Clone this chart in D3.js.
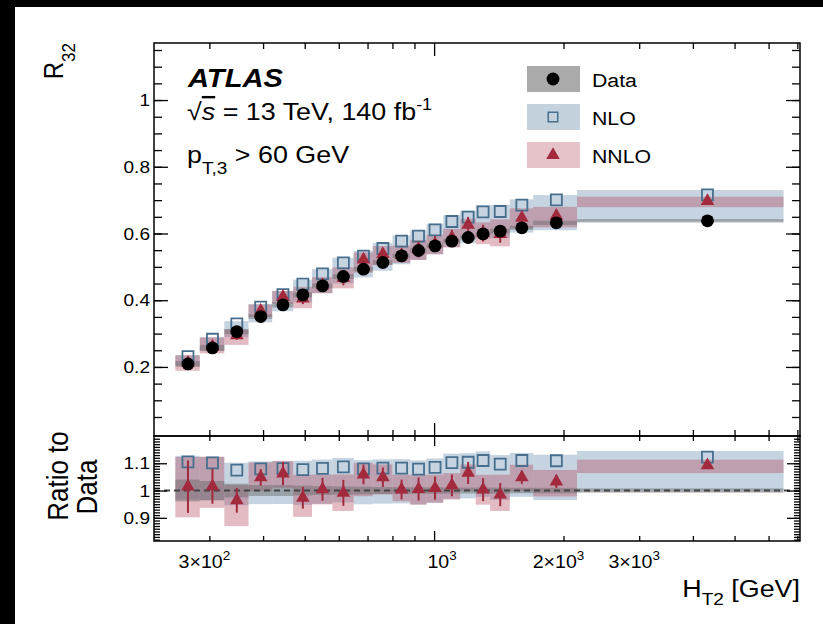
<!DOCTYPE html>
<html>
<head>
<meta charset="utf-8">
<script src="https://cdn.jsdelivr.net/npm/d3@7"></script>
<style>
  html, body { margin: 0; padding: 0; background: #fff; overflow: hidden; }
  svg { display: block; }
  text { font-family: "Liberation Sans", Arial, sans-serif; fill: #000; }
</style>
</head>
<body>
<div id="chart"></div>
<script>
// HT2 bin edges [GeV]
const binEdges = [250, 285, 325, 370, 420, 470, 520, 580, 650, 720, 800, 880, 960, 1050, 1150, 1250, 1350, 1500, 1700, 2150, 6500];

// R32 values
const dataR32 = [0.209, 0.257, 0.306, 0.351, 0.386, 0.416, 0.443, 0.471, 0.493, 0.513, 0.533, 0.549, 0.563, 0.577, 0.588, 0.599, 0.607, 0.617, 0.632, 0.638];
const dataErr = [0.04, 0.035, 0.025, 0.02, 0.02, 0.018, 0.016, 0.015, 0.014, 0.013, 0.012, 0.012, 0.012, 0.011, 0.011, 0.011, 0.011, 0.01, 0.01, 0.008];

const nloR32 = [0.231, 0.283, 0.329, 0.379, 0.417, 0.448, 0.479, 0.512, 0.532, 0.555, 0.577, 0.592, 0.611, 0.636, 0.649, 0.665, 0.666, 0.685, 0.701, 0.716];
const nloUp = [0.02, 0.02, 0.025, 0.025, 0.025, 0.03, 0.03, 0.03, 0.03, 0.03, 0.03, 0.03, 0.03, 0.03, 0.03, 0.03, 0.03, 0.025, 0.02, 0.02];
const nloDn = [0.125, 0.125, 0.12, 0.12, 0.12, 0.12, 0.12, 0.12, 0.12, 0.12, 0.12, 0.12, 0.12, 0.12, 0.12, 0.12, 0.12, 0.12, 0.13, 0.112];

const nnloR32 = [0.212, 0.261, 0.295, 0.368, 0.410, 0.405, 0.445, 0.467, 0.522, 0.538, 0.535, 0.552, 0.568, 0.588, 0.626, 0.601, 0.598, 0.647, 0.653, 0.697];
const nnloUp = [0.107, 0.107, 0.059, 0.052, 0.044, 0.087, 0.054, 0.068, 0.040, 0.045, 0.054, 0.052, 0.049, 0.044, 0.029, 0.054, 0.074, 0.044, 0.041, 0.019];
const nnloDn = [0.111, 0.078, 0.098, 0.049, 0.049, 0.072, 0.055, 0.067, 0.075, 0.060, 0.043, 0.057, 0.053, 0.051, 0.062, 0.055, 0.061, 0.049, 0.053, 0.026];
const nnloStat = [0.095, 0.063, 0.047, 0.029, 0.040, 0.041, 0.042, 0.048, 0.034, 0.034, 0.036, 0.042, 0.042, 0.039, 0.038, 0.042, 0.043, 0.023, 0.023, 0.01];

// axis ticks and labels
const yLabelsMain = [0.2, 0.4, 0.6, 0.8, 1];
const yLabelsRatio = [0.9, 1, 1.1];
const xLabelValues = [300, 1000, 2000, 3000];
const xLabelMantissa = ["3\u00d7", "", "2\u00d7", "3\u00d7"];
const xLabelExponent = ["2", "3", "3", "3"];
const xMinorTicks = [300, 400, 500, 600, 700, 800, 900, 2000, 3000, 4000, 5000, 6000, 7000];
const legendNames = ["Data", "NLO", "NNLO"];

// colours
const cNloBand = "#7f9fba", cNnloBand = "#b0425a", cDataBand = "#666";
const cNlo = "#476f8d", cNnlo = "#a3293d";

// the original picture is a bit wider than tall, stretch text to match
const K = 1.12;

const W = 823, H = 624;
const L = 154, R = 800, T = 43, M = 436, B = 541;

const svg = d3.select("#chart").append("svg")
  .attr("width", W).attr("height", H);
svg.append("rect").attr("width", W).attr("height", H).attr("fill", "#fff");
svg.append("rect").attr("width", 15).attr("height", H).attr("fill", "#000");
svg.append("rect").attr("width", W).attr("height", 7).attr("fill", "#000");

const x = d3.scaleLog().domain([223, 7100]).range([L, R]);
const y = d3.scaleLinear().domain([-0.007, 1.171]).range([M, T]);
const yr = d3.scaleLinear().domain([0.815, 1.2]).range([B, M]);

const bins = dataR32.map((d, i) => ({
  lo: binEdges[i], hi: binEdges[i + 1], c: (binEdges[i] + binEdges[i + 1]) / 2,
  data: d, dErr: dataErr[i],
  nlo: nloR32[i], nloUp: nloUp[i], nloDn: nloDn[i],
  nnlo: nnloR32[i], nnloUp: nnloUp[i], nnloDn: nnloDn[i], stat: nnloStat[i]
}));

svg.append("defs").call(d => {
  d.append("clipPath").attr("id", "clipTop").append("rect")
    .attr("x", L).attr("y", T).attr("width", R - L).attr("height", M - T);
  d.append("clipPath").attr("id", "clipBot").append("rect")
    .attr("x", L).attr("y", M).attr("width", R - L).attr("height", B - M);
});

function label(parent, X, Y, size, anchor, rotate) {
  return parent.append("text")
    .attr("transform", `translate(${X},${Y}) scale(${K},1)` + (rotate ? " rotate(-90)" : ""))
    .attr("font-size", size)
    .attr("text-anchor", anchor || "start");
}

function bands(g, yScale, lowFn, highFn, color, opacity) {
  g.selectAll(null).data(bins).enter().append("rect")
    .attr("x", d => x(d.lo))
    .attr("width", d => x(d.hi) - x(d.lo))
    .attr("y", d => yScale(highFn(d)))
    .attr("height", d => yScale(lowFn(d)) - yScale(highFn(d)))
    .attr("fill", color).attr("fill-opacity", opacity);
}

function ticks(g, axisFn, scale, values, len, tr) {
  g.append("g").attr("transform", tr || null)
    .call(axisFn(scale).tickValues(values).tickSize(-len).tickFormat(""))
    .call(a => a.select(".domain").remove())
    .selectAll("line").attr("stroke", "#000").attr("stroke-width", 1.3);
}

const sqSym = d3.symbol().type(d3.symbolSquare).size(121);
const triSym = d3.symbol().type(d3.symbolTriangle).size(80);
const dotSym = d3.symbol().type(d3.symbolCircle).size(130);

// ---------- upper panel ----------
const upper = svg.append("g").attr("clip-path", "url(#clipTop)");
bands(upper, y, d => d.nlo * (1 - d.nloDn), d => d.nlo * (1 + d.nloUp), cNloBand, 0.45);
bands(upper, y, d => d.nnlo * (1 - d.nnloDn), d => d.nnlo * (1 + d.nnloUp), cNnloBand, 0.36);
bands(upper, y, d => d.data * (1 - d.dErr), d => d.data * (1 + d.dErr), cDataBand, 0.45);

upper.selectAll(null).data(bins).enter().append("path")
  .attr("d", sqSym).attr("transform", d => `translate(${x(d.c)},${y(d.nlo)})`)
  .attr("fill", "none").attr("stroke", cNlo).attr("stroke-width", 1.8);
upper.selectAll(null).data(bins).enter().append("line")
  .attr("x1", d => x(d.c)).attr("x2", d => x(d.c))
  .attr("y1", d => y(d.nnlo * (1 - d.stat))).attr("y2", d => y(d.nnlo * (1 + d.stat)))
  .attr("stroke", cNnlo).attr("stroke-width", 2);
upper.selectAll(null).data(bins).enter().append("path")
  .attr("d", triSym).attr("transform", d => `translate(${x(d.c)},${y(d.nnlo)})`)
  .attr("fill", cNnlo);
upper.selectAll(null).data(bins).enter().append("path")
  .attr("d", dotSym).attr("transform", d => `translate(${x(d.c)},${y(d.data)})`)
  .attr("fill", "#000");

// ---------- ratio panel ----------
const lower = svg.append("g").attr("clip-path", "url(#clipBot)");
bands(lower, yr, d => d.nlo * (1 - d.nloDn) / d.data, d => d.nlo * (1 + d.nloUp) / d.data, cNloBand, 0.45);
bands(lower, yr, d => d.nnlo * (1 - d.nnloDn) / d.data, d => d.nnlo * (1 + d.nnloUp) / d.data, cNnloBand, 0.36);
bands(lower, yr, d => 1 - d.dErr, d => 1 + d.dErr, cDataBand, 0.45);

lower.append("line")
  .attr("x1", L).attr("x2", R).attr("y1", yr(1)).attr("y2", yr(1))
  .attr("stroke", "#444").attr("stroke-width", 2).attr("stroke-dasharray", "6,4");

lower.selectAll(null).data(bins).enter().append("path")
  .attr("d", sqSym).attr("transform", d => `translate(${x(d.c)},${yr(d.nlo / d.data)})`)
  .attr("fill", "none").attr("stroke", cNlo).attr("stroke-width", 1.8);
lower.selectAll(null).data(bins).enter().append("line")
  .attr("x1", d => x(d.c)).attr("x2", d => x(d.c))
  .attr("y1", d => yr(d.nnlo * (1 - d.stat) / d.data)).attr("y2", d => yr(d.nnlo * (1 + d.stat) / d.data))
  .attr("stroke", cNnlo).attr("stroke-width", 2);
lower.selectAll(null).data(bins).enter().append("path")
  .attr("d", triSym).attr("transform", d => `translate(${x(d.c)},${yr(d.nnlo / d.data)})`)
  .attr("fill", cNnlo);

// ---------- axes (ROOT style, ticks inside) ----------
const axes = svg.append("g");
const yMinor = d3.range(1, 24).map(i => +(i * 0.05).toFixed(2));
ticks(axes, d3.axisLeft, y, yMinor, 8, `translate(${L},0)`);
ticks(axes, d3.axisLeft, y, yLabelsMain, 14, `translate(${L},0)`);
ticks(axes, d3.axisRight, y, yMinor, 8, `translate(${R},0)`);
ticks(axes, d3.axisRight, y, yLabelsMain, 14, `translate(${R},0)`);

const rMinor = d3.range(82, 120).map(i => i / 100);
ticks(axes, d3.axisLeft, yr, rMinor, 6, `translate(${L},0)`);
ticks(axes, d3.axisLeft, yr, yLabelsRatio, 13, `translate(${L},0)`);
ticks(axes, d3.axisRight, yr, rMinor, 6, `translate(${R},0)`);
ticks(axes, d3.axisRight, yr, yLabelsRatio, 13, `translate(${R},0)`);

ticks(axes, d3.axisBottom, x, xMinorTicks, 6, `translate(0,${M})`);
ticks(axes, d3.axisBottom, x, [1000], 13, `translate(0,${M})`);
ticks(axes, d3.axisTop, x, xMinorTicks, 6, `translate(0,${T})`);
ticks(axes, d3.axisTop, x, [1000], 13, `translate(0,${T})`);
ticks(axes, d3.axisTop, x, xMinorTicks, 5, `translate(0,${M})`);
ticks(axes, d3.axisTop, x, [1000], 10, `translate(0,${M})`);
ticks(axes, d3.axisBottom, x, xMinorTicks, 5, `translate(0,${B})`);
ticks(axes, d3.axisBottom, x, [1000], 10, `translate(0,${B})`);

axes.append("rect").attr("x", L).attr("y", T).attr("width", R - L).attr("height", M - T)
  .attr("fill", "none").attr("stroke", "#000").attr("stroke-width", 1.5);
axes.append("rect").attr("x", L).attr("y", M).attr("width", R - L).attr("height", B - M)
  .attr("fill", "none").attr("stroke", "#000").attr("stroke-width", 1.5);

// tick labels
yLabelsMain.forEach(v => label(svg, 150, y(v), 17, "end").attr("dy", "0.36em").text(d3.format("~g")(v)));
yLabelsRatio.forEach(v => label(svg, 150, yr(v), 17, "end").attr("dy", "0.36em").text(d3.format("~g")(v)));
xLabelValues.forEach((v, i) => {
  const t = label(svg, x(v) + (xLabelMantissa[i] ? -5 : 8), 568, 17.5, "middle");
  t.append("tspan").text(xLabelMantissa[i] + "10");
  t.append("tspan").attr("font-size", 12).attr("dy", -8).text(xLabelExponent[i]);
});

// axis titles
const r32 = label(svg, 63, T, 24, "end", true);
r32.append("tspan").text("R");
r32.append("tspan").attr("font-size", 17).attr("dy", 10.5).text("32");

label(svg, 68, 476, 26, "middle", true).text("Ratio to");
label(svg, 97, 487, 26, "middle", true).text("Data");

const ht = label(svg, R, 597, 24, "end");
ht.append("tspan").text("H");
ht.append("tspan").attr("font-size", 17).attr("dy", 8).text("T2");
ht.append("tspan").attr("dy", -8).text(" [GeV]");

// ATLAS label
label(svg, 188, 87, 26).attr("font-weight", "bold").attr("font-style", "italic").text("ATLAS");
const ecm = label(svg, 187, 119.5, 24);
ecm.append("tspan").text("\u221a");
ecm.append("tspan").attr("font-style", "italic").style("text-decoration", "overline").text("s");
ecm.append("tspan").text(" = 13 TeV, 140 fb");
ecm.append("tspan").attr("font-size", 16).attr("dy", -10).text("-1");
const pt = label(svg, 187, 163, 24);
pt.append("tspan").text("p");
pt.append("tspan").attr("font-size", 17).attr("dy", 11).text("T,3");
pt.append("tspan").attr("dy", -11).text(" > 60 GeV");

// legend
const legendY = [79, 117, 155];
const legendFill = ["#aaaaaa", "#c3d2dd", "#e6c3c8"];
const leg = svg.append("g");
legendNames.forEach((name, i) => {
  leg.append("rect").attr("x", 527).attr("y", legendY[i] - 13).attr("width", 53).attr("height", 26)
    .attr("fill", legendFill[i]);
  const m = leg.append("path").attr("transform", `translate(553,${legendY[i]})`);
  if (i === 0) m.attr("d", dotSym).attr("fill", "#000");
  if (i === 1) m.attr("d", d3.symbol().type(d3.symbolSquare).size(90)).attr("fill", "none")
    .attr("stroke", cNlo).attr("stroke-width", 1.5);
  if (i === 2) m.attr("d", triSym).attr("fill", cNnlo);
  label(leg, 592, legendY[i] + 7.5, 19).text(name);
});
</script>
</body>
</html>
